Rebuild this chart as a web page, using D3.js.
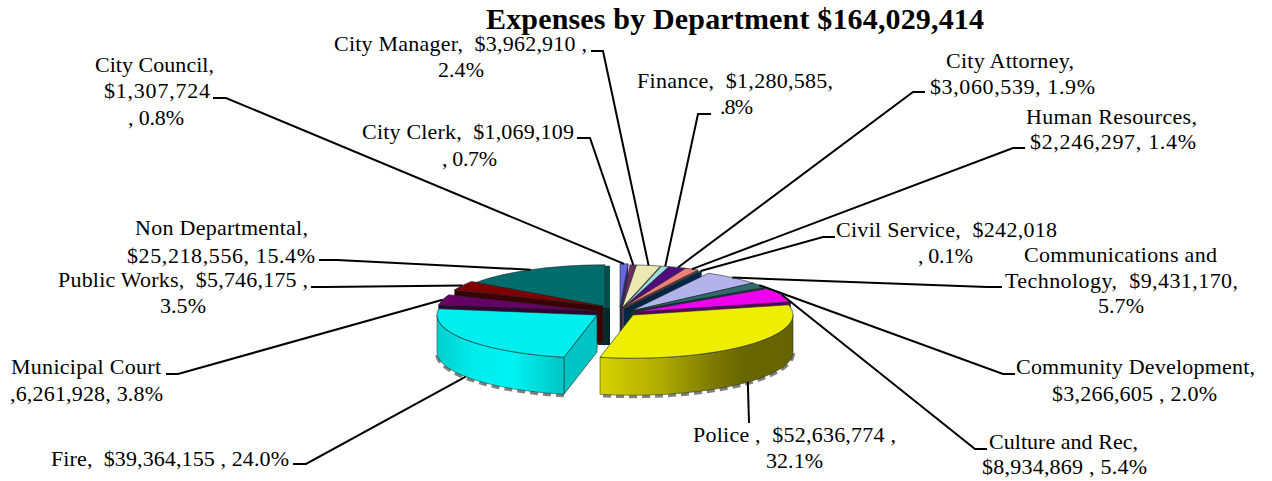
<!DOCTYPE html>
<html><head><meta charset="utf-8">
<script src="https://cdn.jsdelivr.net/npm/d3@7"></script>
<style>html,body{margin:0;padding:0;background:#fff}svg{display:block}</style>
</head><body><svg id="c" width="1272" height="481"></svg>
<script>
// ---- data ----
const titleText = "Expenses by Department $164,029,414";
const categories = ["City Council","City Clerk","City Manager","Finance","City Attorney","Human Resources","Civil Service","Communications and Technology","Community Development","Culture and Rec","Police","Fire","Municipal Court","Public Works","Non Departmental"];
const amounts = [1307724,1069109,3962910,1280585,3060539,2246297,242018,9431170,3266605,8934869,52636774,39364155,6261928,5746175,25218556];
const labelLines = [
 ["City Council,","$1,307,724",", 0.8%"],
 ["City Clerk,  $1,069,109",", 0.7%"],
 ["City Manager,  $3,962,910 ,","2.4%"],
 ["Finance,  $1,280,585,",".8%"],
 ["City Attorney,","$3,060,539, 1.9%"],
 ["Human Resources,","$2,246,297, 1.4%"],
 ["Civil Service,  $242,018",", 0.1%"],
 ["Communications and","Technology,  $9,431,170,","5.7%"],
 ["Community Development,","$3,266,605 , 2.0%"],
 ["Culture and Rec,","$8,934,869 , 5.4%"],
 ["Police ,  $52,636,774 ,","32.1%"],
 ["Fire,  $39,364,155 , 24.0%"],
 ["Municipal Court",",6,261,928, 3.8%"],
 ["Public Works,  $5,746,175 ,","3.5%"],
 ["Non Departmental,","$25,218,556, 15.4%"]
];
// ---- styles and layout ----
const colors = ["#6767e2","#702a60","#ece9b2","#9edcd8","#4f0a7e","#ef8078","#0b4c8c","#b4b2ea","#2f6a6a","#ee00ee","#eeee00","#00eeee","#660066","#800000","#006c6c"];
const faceColors = ["#2a2a70","#3a1030","#6a6850","#4a6a68","#28043f","#70403c","#052546","#4a4a78","#143434","#5c005c","#6a6800","#00c4c4","#300030","#3a0000","#002c2c"];
const apex = [[620,307],[622,308],[622,308],[623,308],[623,308],[622,308],[624,309],[631,311],[631,311],[635,312],[633,315],[597,315],[597,311],[603,306],[605,308]];
const textBoxes = [
 [[95,214,72],[104,210,98],[128,184,125]],
 [[362,574,139],[442,497,166]],
 [[334,587,51],[438,484,77]],
 [[637,833,88],[720,753,114]],
 [[946,1074,68],[930,1095,94]],
 [[1026,1197,124],[1030,1196,149]],
 [[836,1057,237],[918,973,263]],
 [[1024,1217,262],[1005,1238,288],[1098,1144,313]],
 [[1016,1255,374],[1052,1217,401]],
 [[989,1138,449],[982,1147,474]],
 [[693,896,442],[766,823,468]],
 [[51,289,466]],
 [[11,161,374],[10,163,401]],
 [[58,308,287],[160,206,313]],
 [[135,308,235],[127,315,263]]
];
const leaderStubs = [
 [[213,98],[226,98]],[[577,138],[590,138]],[[591,51],[603,51]],[[711,114],[698,114]],
 [[925,92],[913,92]],[[1025,148],[1013,148]],[[835,237],[823,237]],[[1002,287],[987,287]],
 [[1015,374],[1003,374]],[[987,449],[975,449]],[[749,423],[749,423]],[[293,464],[306,464]],
 [[166,374],[178,374]],[[311,287],[325,287]],[[319,260],[337,260]]
];
const R = 160, K = 0.27, DEPTH = 37;
const FONT = "'Liberation Serif','Times New Roman',serif";

const svg = d3.select("#c");
const defs = svg.append("defs");
defs.append("filter").attr("id","soft").append("feGaussianBlur").attr("stdDeviation",0.5);
function gradient(id, stops){
  const g = defs.append("linearGradient").attr("id",id);
  stops.forEach(([o,c])=>g.append("stop").attr("offset",o).attr("stop-color",c));
}
gradient("wallPolice",[[0,"#d6d200"],[0.3,"#b2ae00"],[0.6,"#7a7800"],[0.75,"#686600"],[1,"#666400"]]);
gradient("wallFire",[[0,"#00cfcf"],[0.3,"#00ecec"],[0.6,"#00f2f2"],[1,"#00c4c4"]]);

const arcs = d3.pie().sort(null).value(d=>d)(amounts);
const arcGen = d3.arc().innerRadius(0).outerRadius(R);
const rim = (i,a)=>[apex[i][0]+R*Math.sin(a), apex[i][1]-K*R*Math.cos(a)];
const line = d3.line();

const pieG = svg.append("g").attr("filter","url(#soft)");
const order = d3.range(arcs.length).sort((a,b)=>{
  const m=i=>(arcs[i].startAngle+arcs[i].endAngle)/2;
  return Math.cos(m(b))-Math.cos(m(a));
});
const STROKE = "#1c2a2a";
order.forEach(i=>{
  const d = arcs[i], [ax,ay] = apex[i];
  const g = pieG.append("g");
  if(i===arcs.length-1){
    const top = rim(i,d.endAngle);
    g.append("path").attr("d",line([[top[0],top[1]+1],[top[0]+5,top[1]+1],[top[0]+5,ay],[top[0],ay]])+"Z").attr("fill","#00504f");
    g.append("path").attr("d",line([[ax-7,ay],[ax+5,ay],[ax+5,ay+DEPTH],[ax-7,ay+DEPTH]])+"Z").attr("fill",faceColors[i]);
  }
  [d.startAngle,d.endAngle].forEach((a,j)=>{
    const visible = j===0 ? Math.sin(a)<0 : Math.sin(a)>0;
    if(!visible) return;
    const p = rim(i,a);
    g.append("path")
      .attr("d",line([[ax,ay],p,[p[0],p[1]+DEPTH],[ax,ay+DEPTH]])+"Z")
      .attr("fill",faceColors[i]).attr("stroke",STROKE).attr("stroke-width",0.6);
  });
  const a0 = Math.max(d.startAngle,Math.PI/2), a1 = Math.min(d.endAngle,1.5*Math.PI);
  if(a1>a0){
    const angles = d3.range(0,41).map(t=>a0+(a1-a0)*t/40);
    const topE = angles.map(a=>rim(i,a));
    const botE = angles.map(a=>{const p=rim(i,a);return [p[0],p[1]+DEPTH];});
    g.append("path").attr("d",line(botE.map(p=>[p[0],p[1]+1]))).attr("fill","none")
      .attr("stroke","#808080").attr("stroke-width",4).attr("stroke-dasharray","8 5");
    const fill = i===10 ? "url(#wallPolice)" : i===11 ? "url(#wallFire)" : faceColors[i];
    g.append("path").attr("d",line(topE.concat(botE.slice().reverse()))+"Z")
      .attr("fill",fill).attr("stroke",STROKE).attr("stroke-width",0.5);
  }
  g.append("path").attr("d",arcGen(d))
    .attr("transform",`translate(${ax},${ay}) scale(1,${K})`)
    .attr("fill",colors[i]).attr("stroke",STROKE).attr("stroke-width",0.6)
    .attr("vector-effect","non-scaling-stroke");
});

arcs.forEach((d,i)=>{
  const m=(d.startAngle+d.endAngle)/2, p=rim(i,m);
  if(Math.cos(m)<0) p[1]+=DEPTH;
  svg.append("path").attr("d",line([leaderStubs[i][0],leaderStubs[i][1],p]))
    .attr("fill","none").attr("stroke","#000").attr("stroke-width",2);
});

const ADJ = "spacing";
labelLines.forEach((ls,i)=>ls.forEach((t,j)=>{
  const [x0,x1,y]=textBoxes[i][j];
  svg.append("text").attr("x",x0).attr("y",y).text(t)
    .attr("xml:space","preserve").style("white-space","pre")
    .attr("textLength",x1-x0).attr("lengthAdjust",ADJ)
    .attr("font-family",FONT).attr("font-size",22).attr("fill","#000");
}));
svg.append("text").attr("x",486).attr("y",29).text(titleText)
  .attr("textLength",498).attr("lengthAdjust",ADJ)
  .attr("font-family",FONT).attr("font-size",30).attr("font-weight","bold").attr("fill","#000");
</script></body></html>
